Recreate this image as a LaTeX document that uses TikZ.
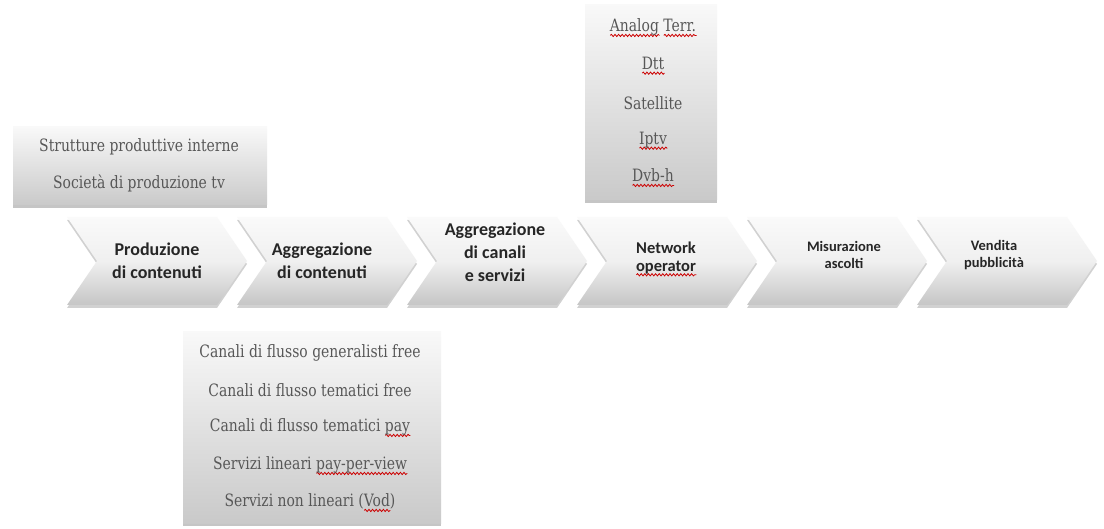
\documentclass[tikz,border=0pt]{standalone}
\usepackage{fontspec}
\setmainfont{Carlito}
\newfontfamily\slabfont[FakeStretch=0.82]{DejaVu Serif}
\usetikzlibrary{shadows,decorations.pathmorphing}

% red wavy underline of the spell checker
\newsavebox\spellbox
\newlength\spellwd
\tikzset{spellline/.style={draw=red!80!black, line width=0.8pt, decorate,
  decoration={snake, amplitude=1.1pt, segment length=3.6pt}}}
\newcommand\spellwave[1]{\sbox\spellbox{#1}\setlength\spellwd{\wd\spellbox}%
  \rlap{\tikz[x=1pt,y=1pt,baseline=0pt]\draw[spellline] (0,-3.5) -- (\spellwd,-3.5);}\usebox\spellbox}

\begin{document}
\begin{tikzpicture}[x=1pt,y=-1pt,
  chevbody/.style={top color=gray!4, bottom color=gray!45, middle color=gray!12,
    drop shadow={shadow xshift=0pt,shadow yshift=-3pt,opacity=.4,fill=black!45}},
  listbox/.style={draw=none, top color=gray!5, bottom color=gray!42, inner sep=0pt,
    drop shadow={shadow xshift=0pt,shadow yshift=-3pt,opacity=.45,fill=black!50}},
  chevtext/.style={font=\bfseries\fontsize{18}{23}\selectfont, align=center, text=black!85, inner sep=0pt},
  chevmid/.style={chevtext, font=\bfseries\fontsize{16.5}{18}\selectfont},
  chevsmall/.style={chevtext, font=\bfseries\fontsize{14.5}{16.5}\selectfont},
  listtext/.style={font=\slabfont\fontsize{17}{19}\selectfont, text=black!66, inner sep=0pt}
]
\useasboundingbox (0,0) rectangle (1104,529);
\fill[white] (0,0) rectangle (1104,529);

% value chain arrows
\foreach \L in {67,237,407,577,747,917}
  \path[chevbody] (\L,217) -- ++(150,0) -- ++(30,44) -- ++(-30,44) -- ++(-150,0) -- ++(30,-44) -- cycle;

\node[chevtext] (c1) at (157,261) {Produzione\\di contenuti};
\node[chevtext] (c2) at (322,261) {Aggregazione\\di contenuti};
\node[chevtext] (c3) at (495,252) {Aggregazione\\di canali\\e servizi};
\node[chevmid] (c4) at (666,259) {Network\\\spellwave{operator}};
\node[chevsmall] (c5) at (844,255) {Misurazione\\ascolti};
\node[chevsmall] (c6) at (994,255) {Vendita\\pubblicità};

% production sources
\node[listbox, minimum width=254pt, minimum height=78pt] (prodbox) at (140,166) {};
\node[listtext] (p1) at (139,147) {Strutture produttive interne};
\node[listtext] (p2) at (139,183) {Società di produzione tv};

% distribution platforms
\node[listbox, minimum width=132pt, minimum height=195pt] (netbox) at (651,102.5) {};
\node[listtext] (n1) at (653,28) {\spellwave{Analog} \spellwave{Terr.}};
\node[listtext] (n2) at (653,66) {\spellwave{Dtt}};
\node[listtext] (n3) at (653,103) {Satellite};
\node[listtext] (n4) at (653,141) {\spellwave{Iptv}};
\node[listtext] (n5) at (653,178) {\spellwave{Dvb-h}};

% channel and service types
\node[listbox, minimum width=258pt, minimum height=191pt] (chanbox) at (312,427.5) {};
\node[listtext] (k1) at (310,353) {Canali di flusso generalisti free};
\node[listtext] (k2) at (310,390) {Canali di flusso tematici free};
\node[listtext] (k3) at (310,428) {Canali di flusso tematici \spellwave{pay}};
\node[listtext] (k4) at (310,466) {Servizi lineari \spellwave{pay-per-view}};
\node[listtext] (k5) at (310,503) {Servizi non lineari (\spellwave{Vod})};
\end{tikzpicture}
\end{document}
